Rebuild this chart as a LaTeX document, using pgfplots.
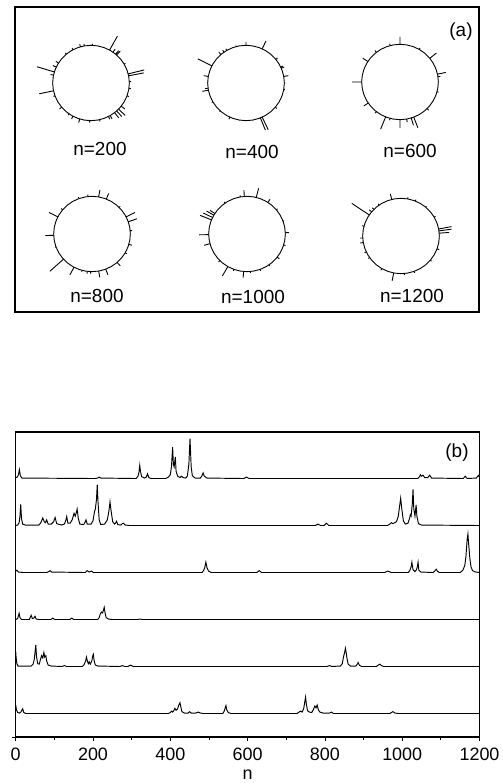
\documentclass[border=0pt]{standalone}
\usepackage{fontspec}
\setmainfont{Liberation Sans}
\usepackage{pgfplots}
\pgfplotsset{compat=1.18}
\usepackage{pgfplotstable}

% ring r=1 (angle in degrees, radius)
\pgfplotstableread{
a r
0 1
10 1
20 1
30 1
40 1
50 1
60 1
70 1
80 1
90 1
100 1
110 1
120 1
130 1
140 1
150 1
160 1
170 1
180 1
190 1
200 1
210 1
220 1
230 1
240 1
250 1
260 1
270 1
280 1
290 1
300 1
310 1
320 1
330 1
340 1
350 1
360 1
}\ringtab

% panel (b) traces: n, intensity above own baseline
\pgfplotstableread{
n y
0 0.02
4 0.03
7 0.08
9.5 0.19
12 0.06
16 0.01
205 0
212 0.01
216 0.03
220 0.01
312 0
317 0.06
319 0.14
321 0.28
323 0.14
326 0.04
333 0.01
338 0.03
341 0.1
344 0.03
349 0
388 0
395 0.03
400 0.08
403 0.25
406 0.67
408 0.3
410 0.25
413 0.46
415 0.15
419 0.05
425 0.02
429 0.05
433 0.02
440 0.01
444 0.05
448 0.3
451 0.85
454 0.25
457 0.06
464 0.01
478 0.01
482 0.06
485 0.12
488 0.05
495 0.01
590 0
597 0.03
604 0
1040 0
1045 0.04
1047 0.08
1050 0.05
1054 0.07
1058 0.02
1066 0.02
1071 0.07
1076 0.01
1158 0
1163 0.05
1168 0
1192 0.01
1197 0.07
1200 0.03
}\trA

\pgfplotstableread{
n y
0 0
5 0.01
9 0.06
11 0.2
13 0.45
15 0.15
18 0.03
25 0.01
60 0.01
65 0.06
70 0.16
74 0.08
77 0.06
80 0.12
84 0.03
92 0.03
98 0.08
102 0.17
106 0.04
118 0.01
126 0.03
130 0.12
132 0.19
135 0.05
141 0.05
146 0.12
151 0.26
154 0.2
157 0.28
159 0.35
162 0.15
166 0.03
176 0.02
180 0.08
182 0.12
185 0.03
195 0.03
200 0.1
204 0.3
206 0.35
209 0.55
211 0.87
213 0.5
216 0.12
220 0.02
230 0.03
237 0.12
241 0.3
244 0.5
247 0.3
251 0.08
256 0.03
259 0.06
261 0.09
264 0.02
272 0.01
276 0.04
279 0.05
283 0.01
295 0
775 0
782 0.03
789 0
798 0
804 0.05
810 0
962 0
968 0.03
972 0.06
976 0.04
985 0.08
990 0.2
993 0.4
996 0.58
999 0.35
1003 0.1
1008 0.03
1015 0.05
1019 0.15
1021 0.23
1023 0.2
1026 0.45
1028 0.77
1030 0.35
1033 0.2
1036 0.44
1038 0.2
1042 0.04
1050 0.01
1200 0
}\trB

\pgfplotstableread{
n y
0 0.03
3 0.05
7 0.01
20 0
80 0
86 0.02
89 0.04
93 0.01
180 0
185 0.04
190 0.01
196 0.03
201 0
482 0
486 0.04
489 0.1
492 0.22
495 0.1
499 0.03
506 0
624 0
630 0.04
636 0
955 0
959 0.02
962 0.03
966 0.02
972 0
1016 0
1020 0.05
1023 0.12
1025 0.22
1028 0.06
1033 0.02
1037 0.06
1039 0.12
1041 0.22
1043 0.05
1048 0.01
1080 0
1085 0.04
1088 0.07
1091 0.03
1096 0
1150 0
1157 0.05
1162 0.15
1165 0.35
1168 0.7
1170 0.82
1172 0.6
1175 0.3
1178 0.12
1182 0.04
1190 0.01
1200 0
}\trC

\pgfplotstableread{
n y
0 0
5 0.02
7 0.08
9 0.13
11 0.04
15 0
35 0
38 0.05
40 0.09
43 0.02
47 0.03
50 0.07
53 0.01
60 0
91 0
96 0.03
101 0
140 0
145 0.03
150 0
212 0
216 0.04
219 0.12
222 0.16
225 0.14
227 0.2
229 0.26
231 0.15
234 0.04
240 0.01
250 0
315 0
321 0.01
327 0
1200 0
}\trD

\pgfplotstableread{
n y
0 0.32
1 0.2
3 0.06
6 0.01
40 0.01
45 0.05
48 0.15
50 0.3
52 0.46
54 0.2
57 0.06
61 0.05
64 0.15
67 0.23
70 0.18
73 0.30
75 0.2
78 0.23
80 0.12
84 0.03
92 0.01
120 0
126 0.02
132 0
172 0
177 0.04
181 0.12
183 0.2
186 0.1
188 0.06
190 0.1
193 0.05
197 0.12
199 0.22
201 0.26
203 0.12
206 0.03
213 0.01
270 0
276 0.02
282 0
290 0
297 0.03
304 0
805 0
812 0.02
818 0
840 0.01
845 0.06
848 0.2
851 0.3
853 0.39
855 0.3
857 0.18
860 0.05
866 0.01
880 0.01
884 0.05
886 0.085
889 0.03
895 0
933 0
938 0.03
942 0.05
946 0.02
952 0
1200 0
}\trE

\pgfplotstableread{
n y
0 0.18
2 0.08
5 0.02
10 0.01
14 0.04
18 0.1
21 0.02
26 0
395 0
400 0.02
403 0.05
406 0.03
409 0.06
412 0.11
415 0.07
419 0.1
422 0.18
425 0.23
427 0.15
430 0.04
436 0.01
446 0.01
450 0.04
454 0.01
466 0.01
472 0.03
478 0.01
485 0
536 0
540 0.06
542 0.12
544 0.17
546 0.08
550 0.02
557 0
728 0
733 0.03
737 0.05
741 0.03
745 0.1
748 0.25
750 0.35
752 0.2
755 0.06
760 0.03
766 0.02
770 0.08
774 0.16
777 0.12
780 0.18
783 0.08
787 0.03
795 0.01
812 0.01
817 0.03
822 0
968 0
972 0.02
976 0.04
981 0.01
990 0
1200 0
}\trF

\pgfplotsset{
  ringax/.style={scale only axis, width=115bp, height=113bp,
    xmin=-1.5, xmax=1.5, ymin=-1.5, ymax=1.5, hide axis, clip=false,
    anchor=south west},
  ringline/.style={black, line width=0.9pt, mark=none, data cs=polar},
  trline/.style={black, line width=0.95pt, mark=none},
}
\newcommand{\ringplot}[3]{%
  \begin{axis}[ringax, at={(#1bp-57.5bp,#2bp-56.5bp)}]
    \addplot[ringline] table[x=a,y=r]{\ringtab};
    \addplot[ringline, unbounded coords=jump] coordinates {#3};
  \end{axis}}

\begin{document}
\begin{tikzpicture}[x=1bp,y=1bp]
\path[use as bounding box] (0,0) rectangle (503,783);

% ---------- panel (a) frame ----------
\begin{axis}[scale only axis, width=464bp, height=305bp,
  at={(15bp,471bp)}, anchor=south west,
  xmin=0, xmax=1, ymin=0, ymax=1, xtick=\empty, ytick=\empty,
  axis line style={line width=1.1pt}]
\end{axis}

\ringplot{91}{700}{%
(2,1)(2,1.05)(2,nan)
(11,1)(11,1.40)(11,nan)
(14,1)(14,1.43)(14,nan)
(30,1)(30,1.04)(30,nan)
(48,1)(48,1.14)(48,nan)
(50,1)(50,1.12)(50,nan)
(55,1)(55,1.10)(55,nan)
(61,1)(61,1.42)(61,nan)
(88,1)(88,1.04)(88,nan)
(100,1)(100,1.05)(100,nan)
(106,1)(106,1.07)(106,nan)
(118,1)(118,1.05)(118,nan)
(130,1)(130,1.04)(130,nan)
(148,1)(148,1.08)(148,nan)
(155,1)(155,1.10)(155,nan)
(163,1)(163,1.47)(163,nan)
(168,1)(168,1.08)(168,nan)
(192,1)(192,1.38)(192,nan)
(200,1)(200,1.04)(200,nan)
(220,1)(220,1.07)(220,nan)
(235,1)(235,1.04)(235,nan)
(242,1)(242,1.08)(242,nan)
(253,1)(253,1.10)(253,nan)
(268,1)(268,1.05)(268,nan)
(283,1)(283,1.05)(283,nan)
(297,1)(297,1.08)(297,nan)
(300,1)(300,1.10)(300,nan)
(308,1)(308,1.17)(308,nan)
(312,1)(312,1.20)(312,nan)
(316,1)(316,1.24)(316,nan)
(322,1)(322,1.12)(322,nan)
(340,1)(340,1.05)(340,nan)
(352,1)(352,1.05)(352,nan)
}

\ringplot{246}{700}{%
(0,1)(0,1.03)(0,nan)
(10,1)(10,1.12)(10,nan)
(23,1)(23,1.08)(23,nan)
(25,1)(25,1.06)(25,nan)
(39,1)(39,1.06)(39,nan)
(65,1)(65,1.23)(65,nan)
(90,1)(90,1.09)(90,nan)
(105,1)(105,1.03)(105,nan)
(120,1)(120,1.05)(120,nan)
(125,1)(125,1.06)(125,nan)
(131,1)(131,1.08)(131,nan)
(153,1)(153,1.41)(153,nan)
(170,1)(170,1.12)(170,nan)
(188,1)(188,1.08)(188,nan)
(191,1)(191,1.16)(191,nan)
(210,1)(210,1.03)(210,nan)
(228,1)(228,1.03)(228,nan)
(245,1)(245,1.06)(245,nan)
(292,1)(292,1.35)(292,nan)
(295,1)(295,1.37)(295,nan)
(320,1)(320,1.05)(320,nan)
(350,1)(350,1.03)(350,nan)
}

\ringplot{400}{701}{%
(8,1)(8,1.06)(8,nan)
(12,1)(12,1.22)(12,nan)
(39,1)(39,1.22)(39,nan)
(60,1)(60,1.04)(60,nan)
(90,1)(90,1.20)(90,nan)
(105,1)(105,1.05)(105,nan)
(128,1)(128,1.06)(128,nan)
(147,1)(147,1.16)(147,nan)
(180,1)(180,1.25)(180,nan)
(214,1)(214,1.14)(214,nan)
(232,1)(232,1.05)(232,nan)
(248,1)(248,1.35)(248,nan)
(255,1)(255,1.05)(255,nan)
(270,1)(270,1.22)(270,nan)
(280,1)(280,1.08)(280,nan)
(287,1)(287,1.20)(287,nan)
(291,1)(291,1.30)(291,nan)
(315,1)(315,1.06)(315,nan)
(345,1)(345,1.04)(345,nan)
}

\ringplot{92}{549}{%
(5,1)(5,1.05)(5,nan)
(19,1)(19,1.24)(19,nan)
(27,1)(27,1.26)(27,nan)
(45,1)(45,1.04)(45,nan)
(68,1)(68,1.16)(68,nan)
(80,1)(80,1.19)(80,nan)
(96,1)(96,1.05)(96,nan)
(110,1)(110,1.04)(110,nan)
(140,1)(140,1.05)(140,nan)
(153,1)(153,1.26)(153,nan)
(182,1)(182,1.22)(182,nan)
(200,1)(200,1.03)(200,nan)
(222,1)(222,1.48)(222,nan)
(242,1)(242,1.23)(242,nan)
(255,1)(255,1.04)(255,nan)
(263,1)(263,1.06)(263,nan)
(268,1)(268,1.05)(268,nan)
(280,1)(280,1.17)(280,nan)
(291,1)(291,1.16)(291,nan)
(311,1)(311,1.12)(311,nan)
(330,1)(330,1.05)(330,nan)
(344,1)(344,1.08)(344,nan)
}

\ringplot{247}{549}{%
(2,1)(2,1.09)(2,nan)
(20,1)(20,1.03)(20,nan)
(40,1)(40,1.04)(40,nan)
(57,1)(57,1.10)(57,nan)
(76,1)(76,1.25)(76,nan)
(94,1)(94,1.16)(94,nan)
(100,1)(100,1.04)(100,nan)
(125,1)(125,1.04)(125,nan)
(147,1)(147,1.15)(147,nan)
(150,1)(150,1.22)(150,nan)
(154,1)(154,1.27)(154,nan)
(158,1)(158,1.32)(158,nan)
(181,1)(181,1.25)(181,nan)
(195,1)(195,1.16)(195,nan)
(225,1)(225,1.05)(225,nan)
(240,1)(240,1.29)(240,nan)
(250,1)(250,1.04)(250,nan)
(265,1)(265,1.16)(265,nan)
(275,1)(275,1.04)(275,nan)
(290,1)(290,1.04)(290,nan)
(305,1)(305,1.04)(305,nan)
(322,1)(322,1.07)(322,nan)
(343,1)(343,1.05)(343,nan)
}

\ringplot{401}{547}{%
(4.3,1)(4.3,1.26)(4.3,nan)
(7.8,1)(7.8,1.33)(7.8,nan)
(10.7,1)(10.7,1.34)(10.7,nan)
(30,1)(30,1.04)(30,nan)
(50,1)(50,1.03)(50,nan)
(68,1)(68,1.04)(68,nan)
(80,1)(80,1.04)(80,nan)
(104,1)(104,1.15)(104,nan)
(125,1)(125,1.04)(125,nan)
(135,1)(135,1.06)(135,nan)
(140,1)(140,1.08)(140,nan)
(146,1)(146,1.55)(146,nan)
(165,1)(165,1.05)(165,nan)
(183,1)(183,1.06)(183,nan)
(190,1)(190,1.08)(190,nan)
(205,1)(205,1.05)(205,nan)
(215,1)(215,1.04)(215,nan)
(240,1)(240,1.05)(240,nan)
(259,1)(259,1.21)(259,nan)
(275,1)(275,1.04)(275,nan)
(290,1)(290,1.04)(290,nan)
(320,1)(320,1.04)(320,nan)
(340,1)(340,1.06)(340,nan)
}

\begingroup\fontsize{19}{22}\selectfont
\node at (100,634) {n=200};
\node at (252,631) {n=400};
\node at (410,632) {n=600};
\node at (97,487) {n=800};
\node at (253,486) {n=1000};
\node at (412,487) {n=1200};
\node at (461,751) {(a)};
\node at (457,330) {(b)};
\endgroup

% ---------- panel (b) ----------
\begin{axis}[scale only axis, width=463.8bp, height=305bp,
  at={(15.7bp,46bp)}, anchor=south west,
  xmin=0, xmax=1200, ymin=0, ymax=6.49,
  axis line style={line width=1.1pt},
  xtick={0,200,...,1200}, minor xtick={100,300,...,1100},
  ytick={0}, yticklabels={},
  xtick pos=bottom, ytick pos=left,
  tick align=outside,
  major tick length=4bp, minor tick length=3bp,
  tick style={black, line width=0.8pt},
  /pgf/number format/assume math mode=true,
  /pgf/number format/1000 sep={},
  xticklabel style={font=\fontsize{18}{20}\selectfont, yshift=-3bp},
  xlabel={n},
  xlabel style={font=\fontsize{18}{20}\selectfont,
    at={(axis description cs:0.5,0)}, anchor=center, yshift=-38bp},
]
\addplot[trline] table[x=n, y expr=\thisrow{y}+5.5] {\trA};
\addplot[trline] table[x=n, y expr=\thisrow{y}+4.5] {\trB};
\addplot[trline] table[x=n, y expr=\thisrow{y}+3.5] {\trC};
\addplot[trline] table[x=n, y expr=\thisrow{y}+2.5] {\trD};
\addplot[trline] table[x=n, y expr=\thisrow{y}+1.5] {\trE};
\addplot[trline] table[x=n, y expr=\thisrow{y}+0.5] {\trF};
\end{axis}
\end{tikzpicture}
\end{document}
